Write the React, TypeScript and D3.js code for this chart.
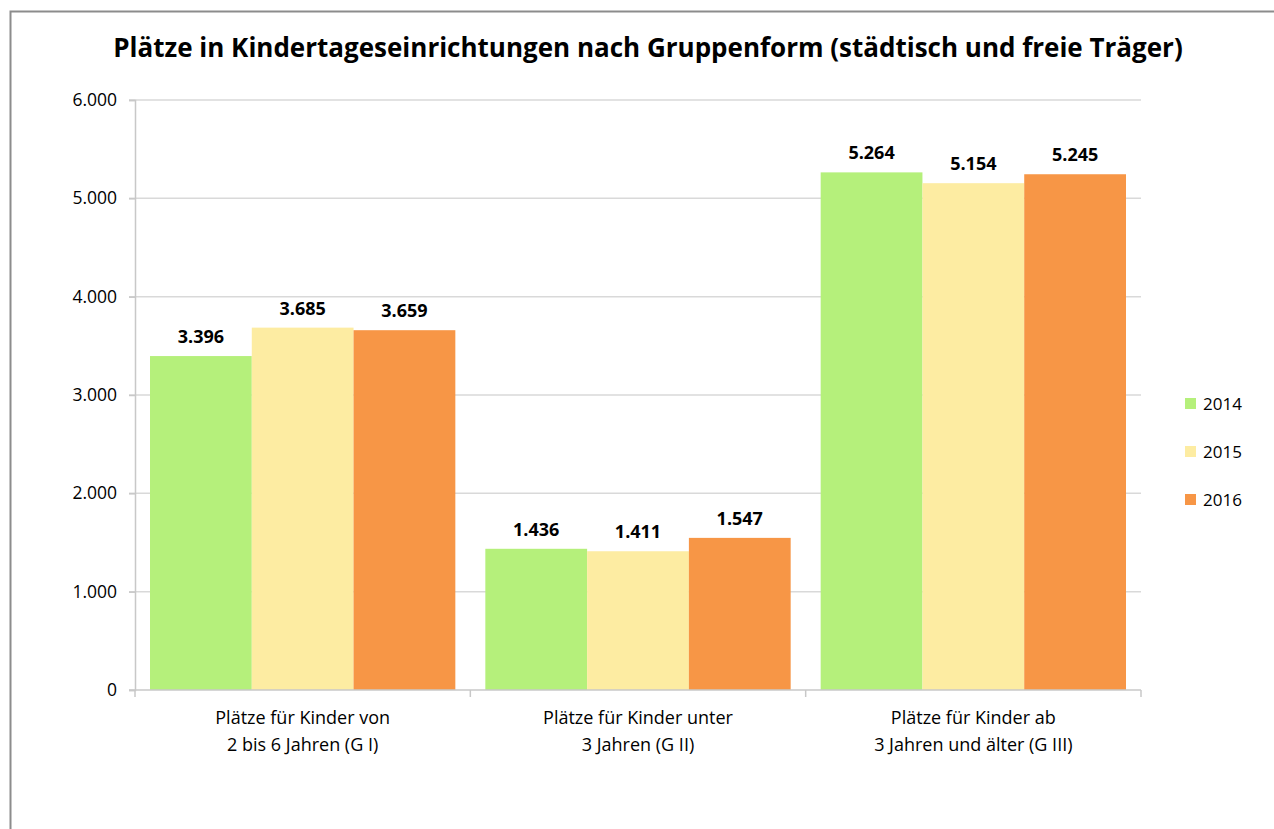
import { useEffect, useRef } from "react";
import * as d3 from "d3";

const TITLE = "Plätze in Kindertageseinrichtungen nach Gruppenform (städtisch und freie Träger)";
const CATEGORIES = [
  ["Plätze für Kinder von", "2 bis 6 Jahren (G I)"],
  ["Plätze für Kinder unter", "3 Jahren (G II)"],
  ["Plätze für Kinder ab", "3 Jahren und älter (G III)"],
];
const YEARS = ["2014", "2015", "2016"];
const VALUES_2014 = [3396, 1436, 5264];
const VALUES_2015 = [3685, 1411, 5154];
const VALUES_2016 = [3659, 1547, 5245];
const Y_TICKS = [0, 1000, 2000, 3000, 4000, 5000, 6000];
const COLORS = ["#b5f07b", "#fdeca2", "#f79646"];

const FONT = "'Open Sans', 'Noto Sans', sans-serif";

export default function App() {
  const svgRef = useRef<SVGSVGElement | null>(null);

  useEffect(() => {
    const svg = d3.select(svgRef.current);
    svg.selectAll("*").remove();
    const width = 1274;
    const height = 829;
    const margin = { top: 100, right: 133, bottom: 139, left: 135 };
    const series = [VALUES_2014, VALUES_2015, VALUES_2016];
    const fmt = d3.formatLocale({ decimal: ",", thousands: ".", grouping: [3], currency: ["", "€"] }).format(",");

    svg.attr("viewBox", `0 0 ${width} ${height}`);

    // frame
    svg.append("path")
      .attr("d", `M10.5,${height} V11.5 H${width}`)
      .attr("fill", "none")
      .attr("stroke", "#8c8c8c")
      .attr("stroke-width", 2);

    const x0 = d3.scaleBand<number>()
      .domain(d3.range(CATEGORIES.length))
      .range([margin.left, width - margin.right])
      .padding(0);

    // groups leave ~15px of space on each side inside a category
    const x1 = d3.scaleBand<number>()
      .domain(d3.range(YEARS.length))
      .range([15, x0.bandwidth() - 15])
      .padding(0);

    const y = d3.scaleLinear()
      .domain([0, 6000])
      .range([height - margin.bottom, margin.top]);

    // gridlines
    svg.append("g")
      .selectAll("line")
      .data(Y_TICKS.filter((t) => t > 0))
      .join("line")
      .attr("x1", margin.left - 6)
      .attr("x2", width - margin.right)
      .attr("y1", (d) => y(d))
      .attr("y2", (d) => y(d))
      .attr("stroke", "#d9d9d9")
      .attr("stroke-width", 1.5);

    // bars
    series.forEach((vals, si) => {
      svg.append("g")
        .selectAll("rect")
        .data(vals)
        .join("rect")
        .attr("x", (_, i) => x0(i)! + x1(si)!)
        .attr("y", (d) => y(d))
        .attr("width", x1.bandwidth())
        .attr("height", (d) => y(0) - y(d))
        .attr("fill", COLORS[si]);

      svg.append("g")
        .selectAll("text")
        .data(vals)
        .join("text")
        .attr("x", (_, i) => x0(i)! + x1(si)! + x1.bandwidth() / 2)
        .attr("y", (d) => y(d) - 13)
        .attr("text-anchor", "middle")
        .attr("font-family", FONT)
        .attr("font-weight", "bold")
        .attr("font-size", 18)
        .attr("fill", "#000")
        .text((d) => fmt(d));
    });

    // y axis
    const yAxis = svg.append("g")
      .attr("transform", `translate(${margin.left},0)`)
      .call(d3.axisLeft(y).tickValues(Y_TICKS).tickSize(6).tickPadding(12).tickFormat((d) => fmt(d as number)));
    yAxis.select(".domain").attr("stroke", "#c8c8c8").attr("stroke-width", 1.5);
    yAxis.selectAll(".tick line").attr("stroke", "#c8c8c8").attr("stroke-width", 1.5);
    yAxis.selectAll("text").attr("font-family", FONT).attr("font-size", 17.5).attr("fill", "#000");

    // x axis
    const xAxisG = svg.append("g").attr("transform", `translate(0,${y(0)})`);
    xAxisG.append("line")
      .attr("x1", margin.left - 6)
      .attr("x2", width - margin.right)
      .attr("stroke", "#c8c8c8")
      .attr("stroke-width", 1.5);
    xAxisG.selectAll("line.tk")
      .data(d3.range(CATEGORIES.length + 1))
      .join("line")
      .attr("class", "tk")
      .attr("x1", (i) => margin.left + i * x0.bandwidth())
      .attr("x2", (i) => margin.left + i * x0.bandwidth())
      .attr("y1", 0)
      .attr("y2", 7)
      .attr("stroke", "#c8c8c8")
      .attr("stroke-width", 1.5);

    const labels = svg.append("g")
      .selectAll("text")
      .data(CATEGORIES)
      .join("text")
      .attr("x", (_, i) => x0(i)! + x0.bandwidth() / 2)
      .attr("y", y(0) + 34)
      .attr("text-anchor", "middle")
      .attr("font-family", FONT)
      .attr("font-size", 18)
      .attr("fill", "#000");
    labels.each(function (d) {
      const t = d3.select(this);
      d.forEach((line, li) => {
        t.append("tspan")
          .attr("x", t.attr("x"))
          .attr("dy", li === 0 ? 0 : 27)
          .text(line);
      });
    });

    // title
    svg.append("text")
      .attr("x", 648)
      .attr("y", 57)
      .attr("text-anchor", "middle")
      .attr("font-family", FONT)
      .attr("font-weight", "bold")
      .attr("font-size", 26)
      .attr("fill", "#000")
      .text(TITLE);

    // legend
    const legend = svg.append("g")
      .selectAll("g")
      .data(YEARS)
      .join("g")
      .attr("transform", (_, i) => `translate(1185,${404 + i * 48})`);
    legend.append("rect")
      .attr("x", 0)
      .attr("y", -6)
      .attr("width", 11)
      .attr("height", 11)
      .attr("fill", (_, i) => COLORS[i]);
    legend.append("text")
      .attr("x", 18)
      .attr("y", 6)
      .attr("font-family", FONT)
      .attr("font-size", 17)
      .attr("fill", "#000")
      .text((d) => d);
  }, []);

  return (
    <svg
      ref={svgRef}
      width={1274}
      height={829}
      style={{ position: "absolute", left: 0, top: 0, display: "block", background: "#fff" }}
    />
  );
}
